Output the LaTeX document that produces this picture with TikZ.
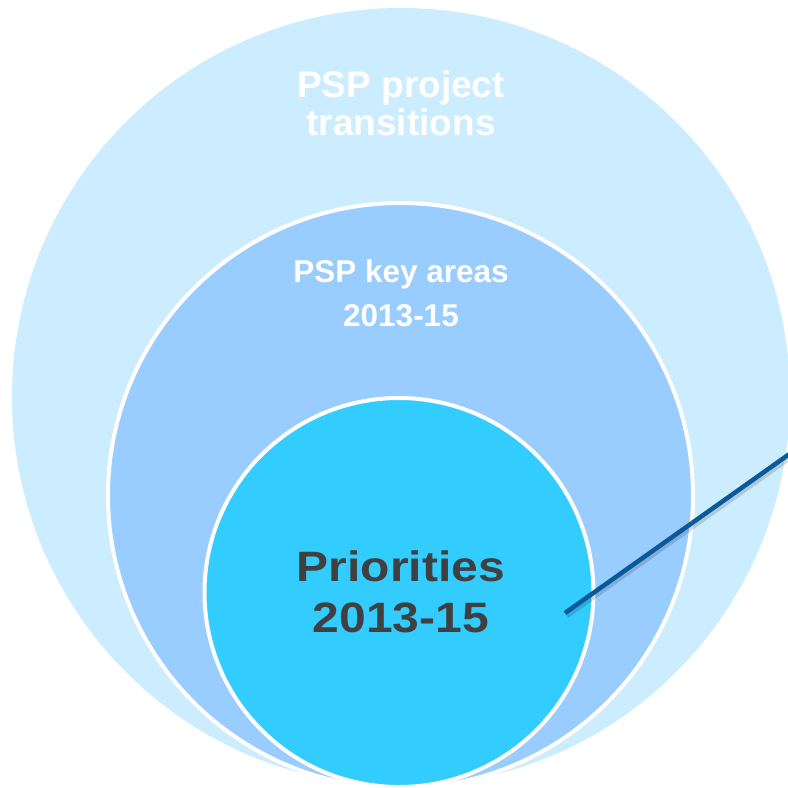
\documentclass[tikz,border=0pt]{standalone}
\usepackage{fontspec}
\setmainfont{Liberation Sans}
\newfontfamily\prifont[FakeStretch=1.13]{Liberation Sans}
\definecolor{outerc}{HTML}{CCECFF}
\definecolor{midc}{HTML}{99CCFF}
\definecolor{innerc}{HTML}{33CCFF}
\definecolor{txtdark}{HTML}{404040}
\definecolor{linec}{HTML}{0A5A9A}
\tikzset{
  ring/.style={draw=white, line width=4pt},
  whitelbl/.style={anchor=base, text=white, inner sep=0pt, font=\bfseries},
  darklbl/.style={anchor=base, text=txtdark, inner sep=0pt},
  pointer/.style={draw=linec, line width=4.5pt},
  pshadow/.style={draw=black, opacity=0.15, line width=4.5pt}
}
\begin{document}
\begin{tikzpicture}[x=1pt,y=-1pt]
\useasboundingbox (0,0) rectangle (788,788);
\clip (0,0) rectangle (788,788);
\fill[outerc] (401,397) circle (389);
\path[ring, fill=midc] (400.5,495.5) circle (292.5);
\path[ring, fill=innerc] (399,592.5) circle (194.5);
\node[whitelbl, font=\bfseries\fontsize{37}{44}\selectfont] (o1) at (401,97) {PSP project};
\node[whitelbl, font=\bfseries\fontsize{37}{44}\selectfont] (o2) at (401,135) {transitions};
\node[whitelbl, font=\bfseries\fontsize{31.5}{38}\selectfont] (m1) at (401,282) {PSP key areas};
\node[whitelbl, font=\bfseries\fontsize{31.5}{38}\selectfont] (m2) at (401,326) {2013-15};
\node[darklbl, font=\prifont\bfseries\fontsize{42.5}{50}\selectfont] (i1) at (401,581) {Priorities};
\node[darklbl, font=\prifont\bfseries\fontsize{42.5}{50}\selectfont] (i2) at (401,632) {2013-15};
\coordinate (ls) at (565,613);
\coordinate (le) at (800,446.5);
\coordinate (lss) at (567,616);
\coordinate (les) at (802,449.5);
\draw[pshadow] (lss) -- (les);
\draw[pointer] (ls) -- (le);
\end{tikzpicture}
\end{document}
